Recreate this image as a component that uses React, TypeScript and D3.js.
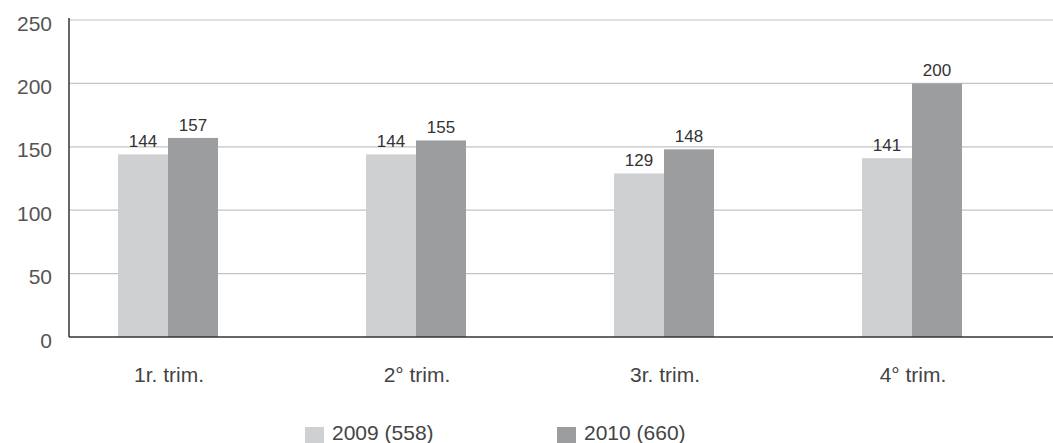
import React from "react";
import * as d3 from "d3";

const categories = ["1r. trim.", "2° trim.", "3r. trim.", "4° trim."];
const series2009 = [144, 144, 129, 141];
const series2010 = [157, 155, 148, 200];
const seriesNames = ["2009 (558)", "2010 (660)"];
const yTicks = [0, 50, 100, 150, 200, 250];

const W = 1053;
const H = 443;
const colors = ["#cfd0d2", "#9c9d9f"];

export default function App() {
  const y = d3.scaleLinear().domain([0, 250]).range([337, 20]);
  const x = d3.scaleBand<string>().domain(categories).range([44, 1036]).paddingInner(0.6).paddingOuter(0.3);
  const sub = d3.scaleBand<string>().domain(["a", "b"]).range([0, 100]);
  const axisX = 69;
  const font = "Liberation Sans, Arial, sans-serif";
  const data = [series2009, series2010];
  return (
    <svg width={W} height={H} style={{ position: "absolute", left: 0, top: 0, background: "#fff" }}>
      {yTicks.filter((t) => t > 0).map((t) => (
        <line key={t} x1={axisX} x2={W} y1={y(t)} y2={y(t)} stroke="#c4c4c4" strokeWidth={1.2} />
      ))}
      {yTicks.map((t) => (
        <text key={"l" + t} x={52} y={y(t) + 10.5} textAnchor="end" fontFamily={font} fontSize={21} fill="#555">
          {t}
        </text>
      ))}
      {categories.map((c, i) => {
        const cx = (x(c) as number) + x.bandwidth() / 2;
        const x0 = cx - 50;
        return (
          <g key={c}>
            {data.map((s, k) => {
              const bx = x0 + (sub(k === 0 ? "a" : "b") as number);
              return (
                <g key={k}>
                  <rect x={bx} y={y(s[i])} width={sub.bandwidth()} height={y(0) - y(s[i])} fill={colors[k]} />
                  <text x={bx + sub.bandwidth() / 2} y={y(s[i]) - 7} textAnchor="middle" fontFamily={font} fontSize={17} fill="#333">
                    {s[i]}
                  </text>
                </g>
              );
            })}
            <text x={cx + 1} y={382} textAnchor="middle" fontFamily={font} fontSize={21} fill="#444">
              {c}
            </text>
          </g>
        );
      })}
      <line x1={axisX} x2={axisX} y1={18} y2={y(0)} stroke="#333" strokeWidth={1.5} />
      <line x1={axisX} x2={W} y1={y(0)} y2={y(0)} stroke="#333" strokeWidth={1.5} />
      {seriesNames.map((n, k) => {
        const lx = k === 0 ? 305 : 557;
        return (
          <g key={n}>
            <rect x={lx} y={427} width={19} height={16} fill={colors[k]} />
            <text x={lx + 27} y={440} fontFamily={font} fontSize={21} fill="#444">
              {n}
            </text>
          </g>
        );
      })}
    </svg>
  );
}
